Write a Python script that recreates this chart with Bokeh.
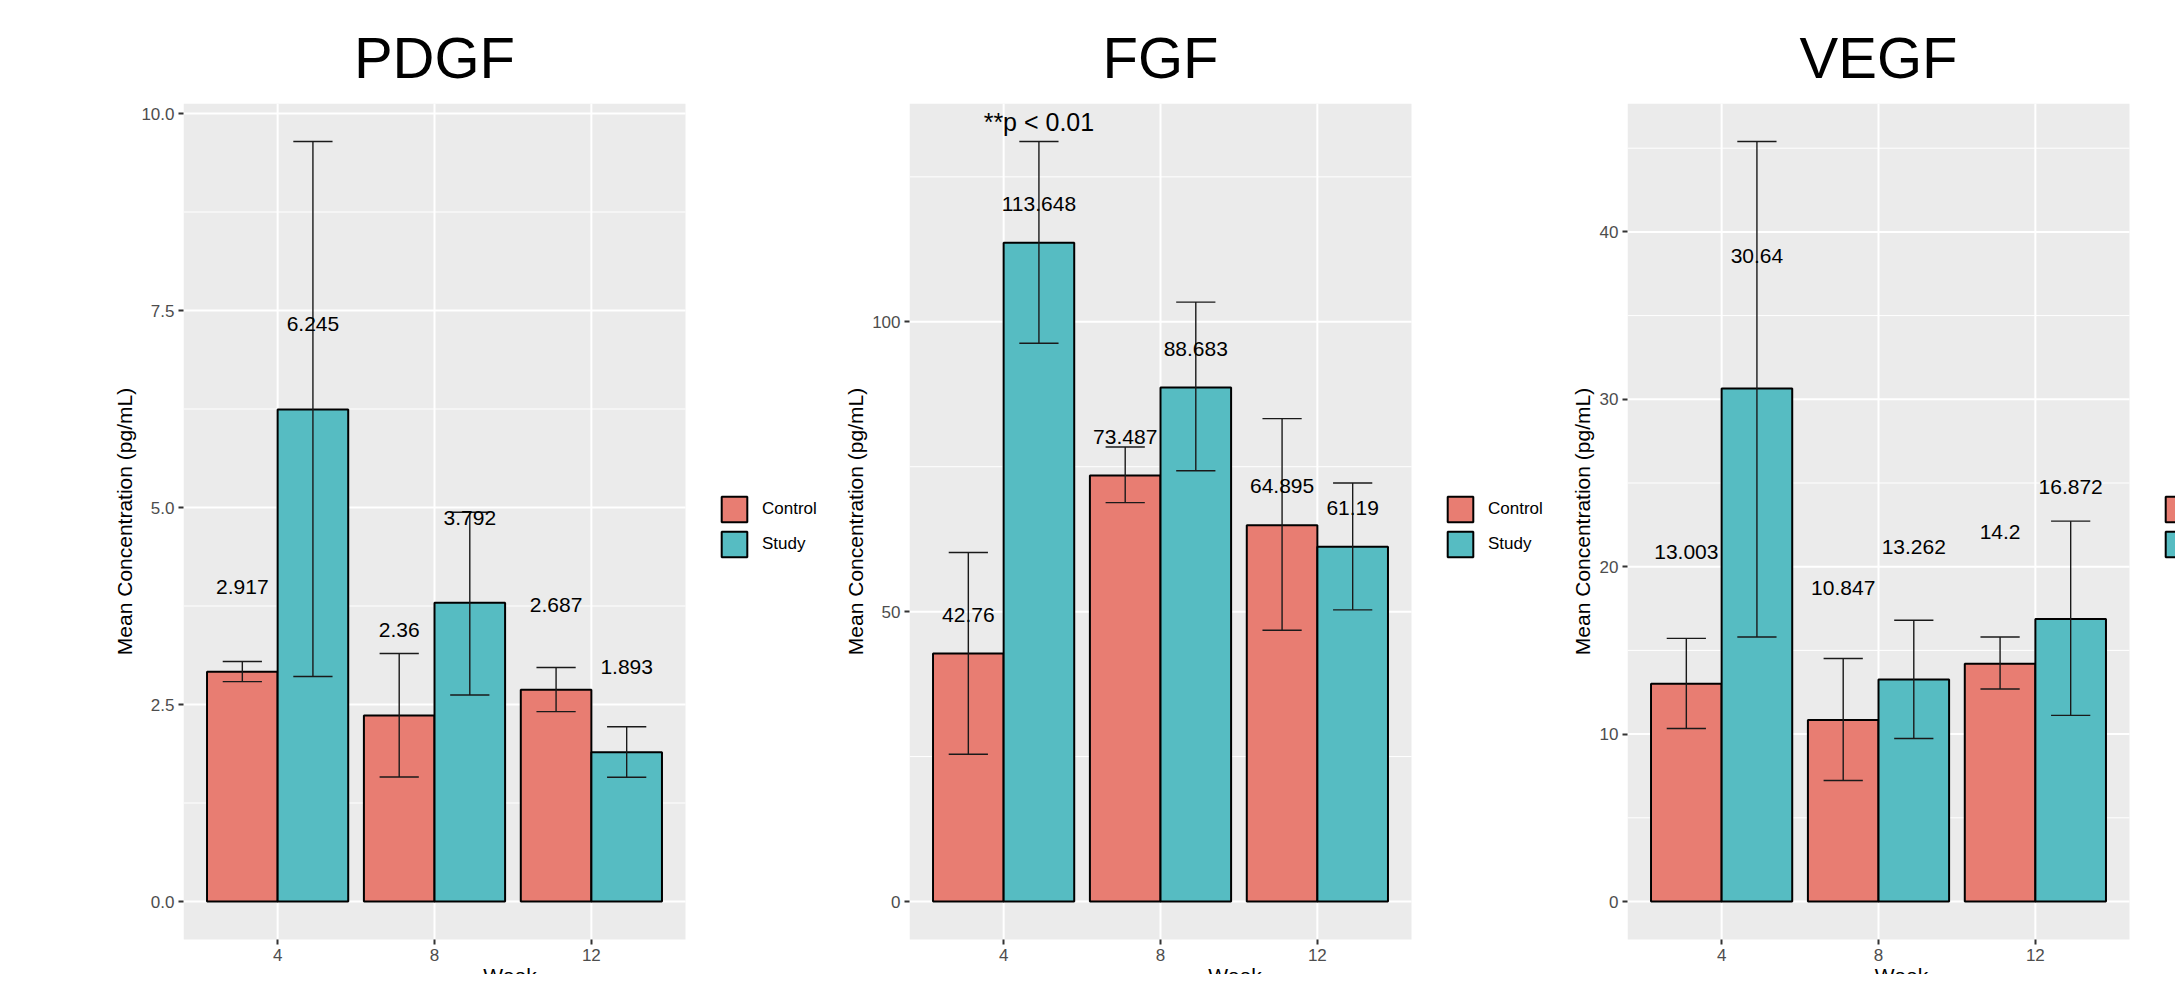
from bokeh.plotting import figure
from bokeh.models import (Range1d, FixedTicker, Legend, LegendItem, ColumnDataSource, Title)
from bokeh.layouts import row
from bokeh.core.properties import value
from bokeh.embed import file_html
from bokeh.resources import INLINE

# ---------------- data ----------------
weeks = ["4", "8", "12"]
groups = ["Control", "Study"]
y_title = "Mean Concentration (pg/mL)"
x_title = "Week"

pdgf_control = [2.917, 2.36, 2.687]
pdgf_study = [6.245, 3.792, 1.893]
pdgf_control_lo = [2.79, 1.58, 2.41]
pdgf_control_hi = [3.045, 3.147, 2.97]
pdgf_study_lo = [2.856, 2.62, 1.576]
pdgf_study_hi = [9.645, 4.94, 2.218]
pdgf_yticks = [0, 2.5, 5, 7.5, 10]
pdgf_yticklabels = ["0.0", "2.5", "5.0", "7.5", "10.0"]

fgf_control = [42.76, 73.487, 64.895]
fgf_study = [113.648, 88.683, 61.19]
fgf_control_lo = [25.4, 68.8, 46.8]
fgf_control_hi = [60.2, 78.4, 83.3]
fgf_study_lo = [96.3, 74.3, 50.3]
fgf_study_hi = [131.1, 103.4, 72.2]
fgf_yticks = [0, 50, 100]
fgf_yticklabels = ["0", "50", "100"]
fgf_note = "**p < 0.01"

vegf_control = [13.003, 10.847, 14.2]
vegf_study = [30.64, 13.262, 16.872]
vegf_control_lo = [10.33, 7.23, 12.69]
vegf_control_hi = [15.72, 14.52, 15.8]
vegf_study_lo = [15.8, 9.74, 11.12]
vegf_study_hi = [45.4, 16.8, 22.72]
vegf_yticks = [0, 10, 20, 30, 40]
vegf_yticklabels = ["0", "10", "20", "30", "40"]

# ---------------- style ----------------
FONT = "Liberation Sans"
CTRL = "#E87D72"
STUDY = "#56BCC2"
PANEL_BG = "#EBEBEB"
BAR_W = 0.45
CAP_W = 0.25
H = 974
TOP = 103               # frame top (px)
PANEL_PX = 502          # width of the grey panel (px)
PANEL_H = 836           # height of the grey panel (px)
BELOW = H - TOP - PANEL_H   # room under the grey panel for the x axis
TITLE_PX = 58
YLAB_PX = 21
# advance widths (em) in Liberation Sans, used to centre texts
ADV = {"P": 0.667, "D": 0.722, "G": 0.778, "F": 0.611, "V": 0.667, "E": 0.667}
YLAB_EM = 12.727        # width of the y title in em


def minor_of(ticks, lo, hi):
    step = ticks[1] - ticks[0]
    cand = [t + step / 2 for t in [ticks[0] - step] + ticks]
    return [m for m in cand if lo < m < hi]


def panel(name, ctrl, study, c_lo, c_hi, s_lo, s_hi, yticks, ylabels,
          nudge, width, bl, note=None, note_gap=0.0):
    top = max(c_hi + s_hi)
    y0, y1 = -0.05 * top, 1.05 * top
    x0, x1 = 0.4, len(weeks) + 0.6
    frame_w = width - bl
    p = figure(width=width, height=H,
               x_range=Range1d(x0, x0 + (x1 - x0) * frame_w / PANEL_PX),
               y_range=Range1d(y0 - (y1 - y0) * BELOW / PANEL_H, y1),
               output_backend="svg", toolbar_location=None,
               min_border_left=bl, min_border_right=0,
               min_border_top=TOP, min_border_bottom=0,
               background_fill_color="white", border_fill_color="white",
               outline_line_color=None)
    p.grid.visible = False

    # title centred over the grey panel
    tw = sum(ADV[c] for c in name) * TITLE_PX
    p.title.text = name
    p.title.align = "left"
    p.title.offset = PANEL_PX / 2 - tw / 2
    p.title.text_font = FONT
    p.title.text_font_size = f"{TITLE_PX}px"
    p.title.text_font_style = "normal"
    p.title.text_color = "black"
    p.title.standoff = 27

    # grey panel and its grid
    p.quad(left=[x0], right=[x1], bottom=[y0], top=[y1],
           fill_color=PANEL_BG, line_color=None)
    mn = minor_of(yticks, y0, y1)
    p.segment(x0=[x0] * len(mn), x1=[x1] * len(mn), y0=mn, y1=mn,
              line_color="white", line_width=1)
    p.segment(x0=[x0] * len(yticks), x1=[x1] * len(yticks), y0=yticks, y1=yticks,
              line_color="white", line_width=2)

    xs = [i + 1 for i in range(len(weeks))]
    p.segment(x0=xs, x1=xs, y0=[y0] * len(xs), y1=[y1] * len(xs),
              line_color="white", line_width=2)

    xc = [x - BAR_W / 2 for x in xs]
    xsd = [x + BAR_W / 2 for x in xs]
    src = ColumnDataSource(dict(
        xc=xc, xs=xsd,
        xc_l=[x - CAP_W / 2 for x in xc], xc_r=[x + CAP_W / 2 for x in xc],
        xs_l=[x - CAP_W / 2 for x in xsd], xs_r=[x + CAP_W / 2 for x in xsd],
        ctrl=ctrl, study=study,
        c_lo=c_lo, c_hi=c_hi, s_lo=s_lo, s_hi=s_hi,
        c_lab=[v + nudge for v in ctrl], s_lab=[v + nudge for v in study],
        c_txt=[str(v) for v in ctrl], s_txt=[str(v) for v in study],
    ))

    rc = p.vbar(x="xc", top="ctrl", bottom=0, width=BAR_W, source=src,
                fill_color=CTRL, line_color="black", line_width=2)
    rs = p.vbar(x="xs", top="study", bottom=0, width=BAR_W, source=src,
                fill_color=STUDY, line_color="black", line_width=2)

    eb = dict(line_color="#1a1a1a", line_width=1.4, source=src)
    for xcol, lo, hi, l, r in (("xc", "c_lo", "c_hi", "xc_l", "xc_r"),
                               ("xs", "s_lo", "s_hi", "xs_l", "xs_r")):
        p.segment(x0=xcol, x1=xcol, y0=lo, y1=hi, **eb)
        p.segment(x0=l, x1=r, y0=hi, y1=hi, **eb)
        p.segment(x0=l, x1=r, y0=lo, y1=lo, **eb)

    tx = dict(text_align="center", text_baseline="middle",
              text_font=value(FONT), text_font_size="21px",
              text_color="black", source=src)
    p.text(x="xc", y="c_lab", text="c_txt", **tx)
    p.text(x="xs", y="s_lab", text="s_txt", **tx)

    if note is not None:
        i = max(range(len(study)), key=lambda k: s_hi[k])
        p.text(x=[xsd[i]], y=[s_hi[i] + note_gap], text=[note],
               text_align="center", text_baseline="middle",
               text_font=value(FONT), text_font_size="25px", text_color="black")

    # axes: the x axis sits on the bottom edge of the grey panel
    p.xaxis.ticker = FixedTicker(ticks=xs)
    p.xaxis.major_label_overrides = {x: w for x, w in zip(xs, weeks)}
    p.xaxis.fixed_location = y0
    p.xaxis.axis_label = x_title
    p.xaxis.axis_label_standoff = 0
    p.xaxis.axis_label_text_font = FONT
    p.xaxis.axis_label_text_font_size = f"{YLAB_PX}px"
    p.xaxis.axis_label_text_font_style = "normal"
    p.xaxis.axis_label_text_color = "black"
    p.yaxis.ticker = FixedTicker(ticks=yticks)
    p.yaxis.major_label_overrides = {t: l for t, l in zip(yticks, ylabels)}
    for ax in (p.xaxis, p.yaxis):
        ax.axis_line_color = None
        ax.major_tick_in = 0
        ax.major_tick_out = 5
        ax.major_tick_line_color = "#333333"
        ax.major_tick_line_width = 2
        ax.minor_tick_line_color = None
        ax.major_label_text_font = FONT
        ax.major_label_text_font_size = "17px"
        ax.major_label_text_color = "#4D4D4D"
        ax.major_label_standoff = 4

    # y title, centred on the grey panel
    ylab = Title(text=y_title, align="left",
                 offset=BELOW + PANEL_H / 2 - YLAB_EM * YLAB_PX / 2,
                 text_font=FONT, text_font_size=f"{YLAB_PX}px",
                 text_font_style="normal", text_color="black", standoff=6)
    p.add_layout(ylab, "left")

    legend = Legend(items=[LegendItem(label=groups[0], renderers=[rc]),
                           LegendItem(label=groups[1], renderers=[rs])],
                    location=(PANEL_PX + 33, BELOW + 379), glyph_width=32,
                    glyph_height=32, spacing=3, padding=0, margin=0,
                    label_standoff=12, label_text_font=FONT,
                    label_text_font_size="17px", label_text_color="black",
                    border_line_color=None, background_fill_alpha=0)
    p.add_layout(legend)
    return p


p1 = panel("PDGF", pdgf_control, pdgf_study, pdgf_control_lo, pdgf_control_hi,
           pdgf_study_lo, pdgf_study_hi, pdgf_yticks, pdgf_yticklabels,
           nudge=1.08, width=836, bl=183)
p2 = panel("FGF", fgf_control, fgf_study, fgf_control_lo, fgf_control_hi,
           fgf_study_lo, fgf_study_hi, fgf_yticks, fgf_yticklabels,
           nudge=6.7, width=724, bl=73, note=fgf_note, note_gap=3.3)
p3 = panel("VEGF", vegf_control, vegf_study, vegf_control_lo, vegf_control_hi,
           vegf_study_lo, vegf_study_hi, vegf_yticks, vegf_yticklabels,
           nudge=7.9, width=615, bl=67)

layout = row(p1, p2, p3)
open("out.html", "w").write(file_html(layout, INLINE))
